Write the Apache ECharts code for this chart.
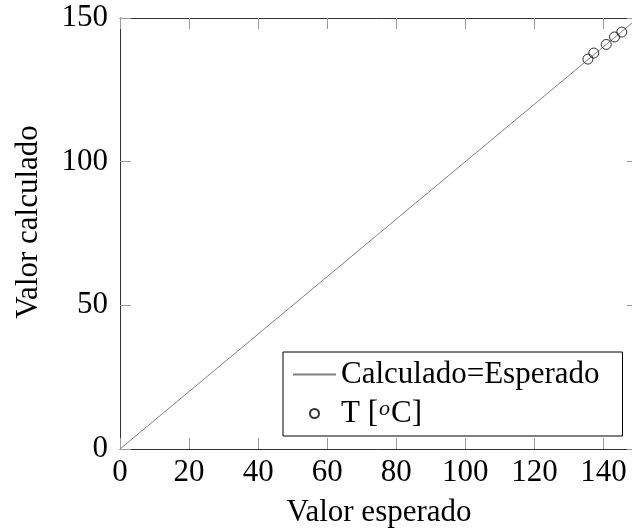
<!DOCTYPE html>
<html>
<head>
<meta charset="utf-8">
<script src="https://cdn.jsdelivr.net/npm/echarts@6/dist/echarts.min.js"></script>
<style>
  html, body { margin: 0; padding: 0; background: #fff; }
  #chart { width: 632px; height: 532px; }
</style>
</head>
<body>
<div id="chart"></div>
<script>
// Reference line: calculated equals expected
const lineX = [0, 150];
const lineY = [0, 150];

// Temperature points: expected vs calculated
const tempExpected   = [135.5, 137.2, 140.8, 143.2, 145.3];
const tempCalculated = [135.7, 137.8, 140.8, 143.4, 145.1];

const xTicks = [0, 20, 40, 60, 80, 100, 120, 140];
const yTicks = [0, 50, 100, 150];

const lineName = 'Calculado=Esperado';
const tempName = 'T [oC]';

const FONT = '"Liberation Serif", "Times New Roman", serif';
const FONT_SIZE = 31;
const AXIS_COLOR = '#333';
const TICK_COLOR = '#9a9a9a';

const chart = echarts.init(document.getElementById('chart'), null, { renderer: 'canvas' });

const tickStyle = { show: true, inside: true, length: 11, lineStyle: { color: TICK_COLOR, width: 1 } };

function axisBase(extra) {
  return Object.assign({
    type: 'value',
    min: 0,
    max: 150,
    splitLine: { show: false },
    axisLine: { show: true, onZero: false, lineStyle: { color: AXIS_COLOR, width: 1 } },
    axisTick: tickStyle
  }, extra);
}

const xLabelSet = new Set(xTicks);
const yLabelSet = new Set(yTicks);

chart.setOption({
  animation: false,
  backgroundColor: '#fff',
  grid: { left: 120, top: 18, width: 518, height: 431, containLabel: false, outerBoundsMode: 'none' },
  xAxis: [
    axisBase({
      position: 'bottom',
      interval: 20,
      name: 'Valor esperado',
      nameLocation: 'middle',
      nameGap: 48,
      nameTextStyle: { fontFamily: FONT, fontSize: FONT_SIZE, color: '#000' },
      axisLabel: {
        margin: 8,
        fontFamily: FONT, fontSize: FONT_SIZE, color: '#000',
        formatter: v => xLabelSet.has(v) ? String(v) : ''
      }
    }),
    axisBase({
      position: 'top',
      interval: 20,
      axisLabel: { show: false }
    })
  ],
  yAxis: [
    axisBase({
      position: 'left',
      interval: 50,
      axisLabel: {
        margin: 12,
        fontFamily: FONT, fontSize: FONT_SIZE, color: '#000',
        formatter: v => yLabelSet.has(v) ? String(v) : ''
      }
    }),
    axisBase({
      position: 'right',
      interval: 50,
      axisLabel: { show: false }
    })
  ],
  graphic: [{
    type: 'text',
    x: 29,
    y: 222,
    rotation: Math.PI / 2,
    style: {
      text: 'Valor calculado',
      fontFamily: FONT,
      fontSize: FONT_SIZE,
      fill: '#000',
      align: 'center',
      verticalAlign: 'middle'
    }
  }],
  legend: {
    orient: 'vertical',
    left: 283,
    top: 352,
    padding: [7, 23, 7, 9],
    itemGap: 8,
    itemWidth: 43,
    itemHeight: 9,
    selectedMode: false,
    borderColor: '#000',
    borderWidth: 1,
    backgroundColor: '#fff',
    data: [
      { name: lineName, itemStyle: { opacity: 0 } },
      { name: tempName }
    ],
    formatter: name => name === tempName ? 'T [{sup|o}C]' : name,
    textStyle: {
      fontFamily: FONT,
      fontSize: FONT_SIZE,
      lineHeight: 30,
      color: '#000',
      rich: {
        sup: { fontFamily: FONT, fontSize: 22, fontStyle: 'italic', color: '#000', verticalAlign: 'top', lineHeight: 28, padding: [0, 1, 0, 1] }
      }
    }
  },
  series: [
    {
      name: lineName,
      type: 'line',
      xAxisIndex: 0,
      yAxisIndex: 0,
      symbol: 'none',
      data: lineX.map((x, i) => [x, lineY[i]]),
      lineStyle: { color: '#808080', width: 1 },
      itemStyle: { color: '#808080' },
      z: 2
    },
    {
      name: tempName,
      type: 'scatter',
      xAxisIndex: 0,
      yAxisIndex: 0,
      symbol: 'circle',
      symbolSize: 10,
      data: tempExpected.map((x, i) => [x, tempCalculated[i]]),
      itemStyle: { color: 'rgba(0,0,0,0)', borderColor: '#000', borderWidth: 1 },
      z: 3
    }
  ]
});
</script>
</body>
</html>
